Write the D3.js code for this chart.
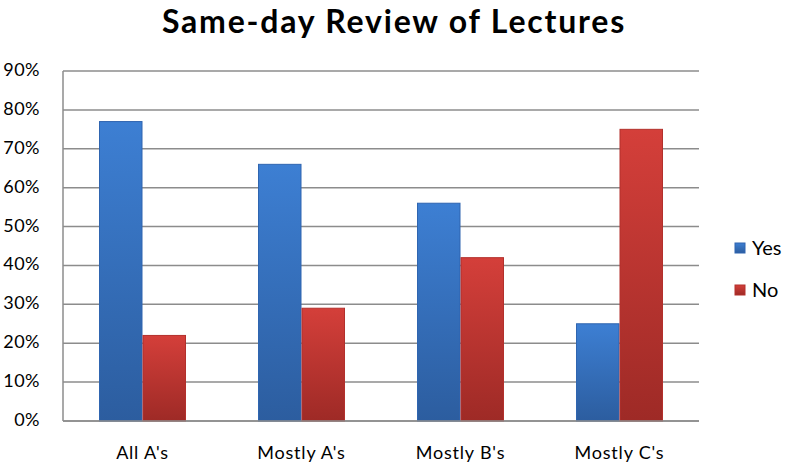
<!DOCTYPE html>
<html><head><meta charset="utf-8">
<script src="https://cdn.jsdelivr.net/npm/d3@7"></script>
<style>body{margin:0;background:#fff}svg{display:block}</style>
</head><body>
<svg id="c" width="787" height="468"></svg>
<script>
const categories = ["All A's", "Mostly A's", "Mostly B's", "Mostly C's"];
const yesValues = [77, 66, 56, 25];
const noValues = [22, 29, 42, 75];
const seriesNames = ["Yes", "No"];
const yTicks = [0, 10, 20, 30, 40, 50, 60, 70, 80, 90];

const svg = d3.select("#c");
const font = "Lato, 'Open Sans', sans-serif";
const m = {l: 63, r: 699, t: 71, b: 421};

const defs = svg.append("defs");
const grads = [["gYes", "#3d7fd3", "#2c5d9f"], ["gNo", "#d43f3a", "#9e2a26"]];
grads.forEach(([id, c1, c2]) => {
  const g = defs.append("linearGradient").attr("id", id).attr("x1", 0).attr("y1", 0).attr("x2", 0).attr("y2", 1);
  g.append("stop").attr("offset", "0%").attr("stop-color", c1);
  g.append("stop").attr("offset", "100%").attr("stop-color", c2);
});
const strokes = ["#2f65b0", "#b3302c"];

const x = d3.scaleBand().domain(categories).range([m.l, m.r]).paddingInner(0).paddingOuter(0);
const x1 = d3.scaleBand().domain(seriesNames).range([36, x.bandwidth() - 36]).padding(0);
const y = d3.scaleLinear().domain([0, 90]).range([m.b, m.t]);

// gridlines
svg.append("g").selectAll("line").data(yTicks).join("line")
  .attr("x1", m.l).attr("x2", m.r).attr("y1", d => y(d)).attr("y2", d => y(d))
  .attr("stroke", "#8c8c8c").attr("stroke-width", 1.5);

// bars
const data = categories.map((c, i) => ({c, vals: [yesValues[i], noValues[i]]}));
const grp = svg.append("g").selectAll("g").data(data).join("g")
  .attr("transform", d => `translate(${x(d.c)},0)`);
grp.selectAll("rect").data(d => d.vals.map((v, j) => ({v, j}))).join("rect")
  .attr("x", d => x1(seriesNames[d.j]) + 0.5)
  .attr("width", x1.bandwidth() - 1)
  .attr("y", d => y(d.v))
  .attr("height", d => y(0) - y(d.v))
  .attr("fill", d => `url(#${grads[d.j][0]})`)
  .attr("stroke", d => strokes[d.j]).attr("stroke-width", 1);

// axes lines
svg.append("line").attr("x1", m.l).attr("x2", m.l).attr("y1", m.t).attr("y2", m.b)
  .attr("stroke", "#8c8c8c").attr("stroke-width", 1.5);
svg.append("line").attr("x1", m.l).attr("x2", m.r).attr("y1", m.b).attr("y2", m.b)
  .attr("stroke", "#8c8c8c").attr("stroke-width", 1.5);

// y labels
svg.append("g").selectAll("text").data(yTicks).join("text")
  .attr("x", 40).attr("y", d => y(d) + 5)
  .attr("text-anchor", "end").attr("font-family", font).attr("font-size", 18)
  .attr("letter-spacing", 0.5)
  .attr("fill", "#000").text(d => d + "%");

// x labels
svg.append("g").selectAll("text").data(categories).join("text")
  .attr("x", d => x(d) + x.bandwidth() / 2).attr("y", 459)
  .attr("text-anchor", "middle").attr("font-family", font).attr("font-size", 18)
  .attr("letter-spacing", 0.8)
  .attr("fill", "#000").text(d => d);

// title
svg.append("text").attr("x", 394).attr("y", 33).attr("text-anchor", "middle")
  .attr("font-family", font).attr("font-weight", "bold").attr("font-size", 32)
  .attr("letter-spacing", 1.8)
  .attr("fill", "#000").text("Same-day Review of Lectures");

// legend
const leg = svg.append("g").selectAll("g").data(seriesNames).join("g")
  .attr("transform", (d, i) => `translate(735,${243 + i * 42})`);
leg.append("rect").attr("width", 10).attr("height", 10)
  .attr("fill", (d, i) => `url(#${grads[i][0]})`).attr("stroke", (d, i) => strokes[i]);
leg.append("text").attr("x", 17).attr("y", 12).attr("font-family", font).attr("font-size", 20)
  .attr("fill", "#000").text(d => d);
</script>
</body></html>
